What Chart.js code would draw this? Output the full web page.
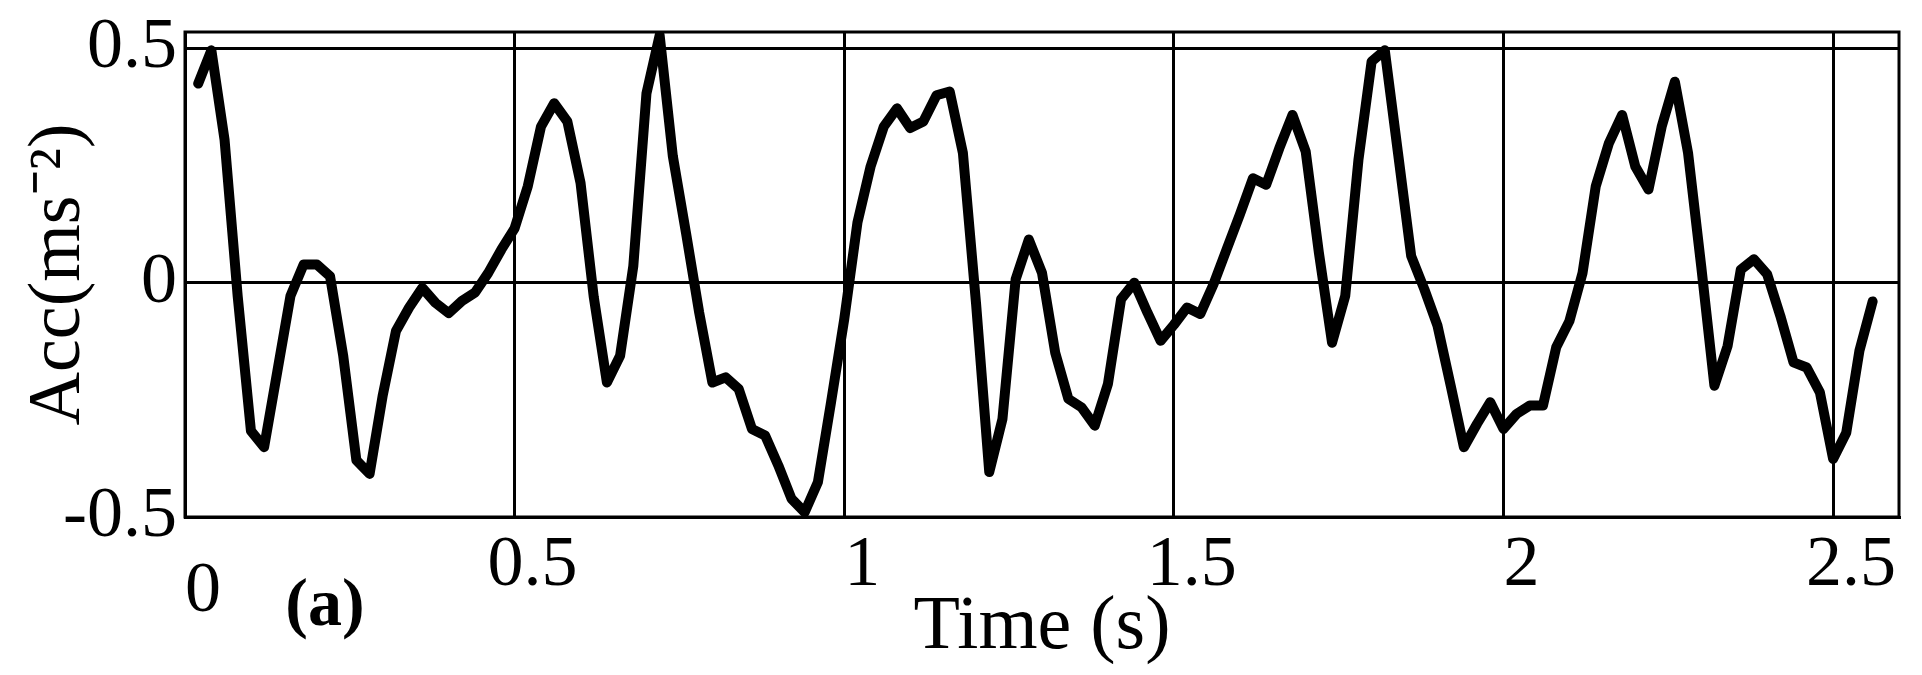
<!DOCTYPE html>
<html>
<head>
<meta charset="utf-8">
<title>Acc vs Time</title>
<script src="https://cdn.jsdelivr.net/npm/chart.js@4.4.1/dist/chart.umd.min.js"></script>
<style>
    html, body { margin: 0; padding: 0; background: #fff; }
    #wrap { width: 1922px; height: 675px; }
</style>
</head>
<body>
<div id="wrap"><canvas id="accChart"></canvas></div>
<script>
// sample times (s)
const timeValues = [
    0.02, 0.04, 0.06, 0.08, 0.10, 0.12, 0.14, 0.16, 0.18, 0.20,
    0.22, 0.24, 0.26, 0.28, 0.30, 0.32, 0.34, 0.36, 0.38, 0.40,
    0.42, 0.44, 0.46, 0.48, 0.50, 0.52, 0.54, 0.56, 0.58, 0.60,
    0.62, 0.64, 0.66, 0.68, 0.70, 0.72, 0.74, 0.76, 0.78, 0.80,
    0.82, 0.84, 0.86, 0.88, 0.90, 0.92, 0.94, 0.96, 0.98, 1.00,
    1.02, 1.04, 1.06, 1.08, 1.10, 1.12, 1.14, 1.16, 1.18, 1.20,
    1.22, 1.24, 1.26, 1.28, 1.30, 1.32, 1.34, 1.36, 1.38, 1.40,
    1.42, 1.44, 1.46, 1.48, 1.50, 1.52, 1.54, 1.56, 1.58, 1.60,
    1.62, 1.64, 1.66, 1.68, 1.70, 1.72, 1.74, 1.76, 1.78, 1.80,
    1.82, 1.84, 1.86, 1.88, 1.90, 1.92, 1.94, 1.96, 1.98, 2.00,
    2.02, 2.04, 2.06, 2.08, 2.10, 2.12, 2.14, 2.16, 2.18, 2.20,
    2.22, 2.24, 2.26, 2.28, 2.30, 2.32, 2.34, 2.36, 2.38, 2.40,
    2.42, 2.44, 2.46, 2.48, 2.50, 2.52, 2.54, 2.56
];

// acceleration (m/s^2)
const accValues = [
    0.425, 0.496, 0.305, -0.03, -0.316, -0.351, -0.19, -0.028, 0.039, 0.039,
    0.014, -0.156, -0.379, -0.408, -0.24, -0.103, -0.053, -0.011, -0.043, -0.065,
    -0.039, -0.021, 0.021, 0.071, 0.116, 0.206, 0.333, 0.383, 0.344, 0.213,
    -0.03, -0.213, -0.156, 0.035, 0.404, 0.528, 0.27, 0.106, -0.064, -0.213,
    -0.202, -0.227, -0.312, -0.326, -0.39, -0.461, -0.49, -0.426, -0.255, -0.078,
    0.128, 0.248, 0.333, 0.372, 0.33, 0.344, 0.40, 0.408, 0.277, -0.045,
    -0.404, -0.291, 0.007, 0.092, 0.021, -0.149, -0.248, -0.266, -0.305, -0.216,
    -0.035, 0.0, -0.064, -0.124, -0.09, -0.053, -0.067, -0.004, 0.071, 0.145,
    0.223, 0.209, 0.287, 0.358, 0.28, 0.064, -0.128, -0.028, 0.262, 0.472,
    0.496, 0.277, 0.057, -0.014, -0.092, -0.22, -0.351, -0.301, -0.255, -0.312,
    -0.28, -0.262, -0.262, -0.138, -0.082, 0.021, 0.206, 0.298, 0.358, 0.248,
    0.199, 0.333, 0.429, 0.277, 0.035, -0.22, -0.135, 0.028, 0.05, 0.018,
    -0.071, -0.17, -0.181, -0.234, -0.376, -0.32, -0.145, -0.04
];

const xTickValues = [0, 0.5, 1, 1.5, 2, 2.5];
const yTickValues = [-0.5, 0, 0.5];

const serif = '"Liberation Serif", "Times New Roman", serif';

// box round the plot area and the "(a)" panel tag
const framePlugin = {
    id: 'frame',
    afterDraw(chart) {
        const { ctx, chartArea } = chart;
        ctx.save();
        ctx.strokeStyle = '#000';
        ctx.lineWidth = 3;
        ctx.strokeRect(chartArea.left, chartArea.top,
            chartArea.right - chartArea.left, chartArea.bottom - chartArea.top);
        ctx.fillStyle = '#000';
        ctx.font = 'bold 68px ' + serif;
        ctx.textAlign = 'center';
        ctx.textBaseline = 'middle';
        ctx.fillText('(a)', chartArea.left + 140, chartArea.bottom + 90);
        ctx.restore();
    }
};

const points = timeValues.map((t, i) => ({ x: t, y: accValues[i] }));

const ctx = document.getElementById('accChart').getContext('2d');

new Chart(ctx, {
    type: 'line',
    data: {
        datasets: [{
            label: 'Acc',
            data: points,
            borderColor: '#000',
            borderWidth: 10,
            borderJoinStyle: 'round',
            borderCapStyle: 'round',
            pointRadius: 0,
            tension: 0,
            fill: false
        }]
    },
    options: {
        responsive: true,
        maintainAspectRatio: false,
        animation: false,
        layout: {
            padding: { top: 32, right: 23, left: 0, bottom: 0 }
        },
        plugins: {
            legend: { display: false },
            tooltip: { enabled: false }
        },
        scales: {
            x: {
                type: 'linear',
                min: 0,
                max: 2.6,
                afterBuildTicks: scale => {
                    scale.ticks = xTickValues.map(v => ({ value: v }));
                },
                afterFit: scale => {
                    scale.height = 158;
                    scale.paddingLeft = 0;
                    scale.paddingRight = 0;
                },
                grid: { color: '#000', lineWidth: 3, drawTicks: false },
                border: { display: true, color: '#000', width: 3 },
                ticks: {
                    color: '#000',
                    padding: 13,
                    labelOffset: 18,
                    maxRotation: 0,
                    autoSkip: false,
                    // the "0" sits a little lower than the other labels
                    font: c => ({
                        family: serif,
                        size: 72,
                        lineHeight: (c.tick && c.tick.value === 0) ? 1.72 : 1
                    }),
                    callback: v => String(v)
                },
                title: {
                    display: true,
                    text: 'Time (s)',
                    color: '#000',
                    font: { family: serif, size: 76, lineHeight: 1 },
                    padding: { top: 0, bottom: 9 }
                }
            },
            y: {
                type: 'linear',
                min: -0.5,
                max: 0.535,
                afterBuildTicks: scale => {
                    scale.ticks = yTickValues.map(v => ({ value: v }));
                },
                afterFit: scale => {
                    scale.width = 185;
                    scale.paddingTop = 0;
                    scale.paddingBottom = 0;
                },
                grid: { color: '#000', lineWidth: 3, drawTicks: false },
                border: { display: true, color: '#000', width: 3 },
                ticks: {
                    color: '#000',
                    padding: 8,
                    font: { family: serif, size: 72, lineHeight: 1 },
                    callback: v => String(v)
                },
                title: {
                    display: true,
                    text: 'Acc(ms\u207B\u00B2)',
                    color: '#000',
                    font: { family: serif, size: 74, lineHeight: 1 },
                    padding: { top: 23, bottom: 0 }
                }
            }
        }
    },
    plugins: [framePlugin]
});
</script>
</body>
</html>
